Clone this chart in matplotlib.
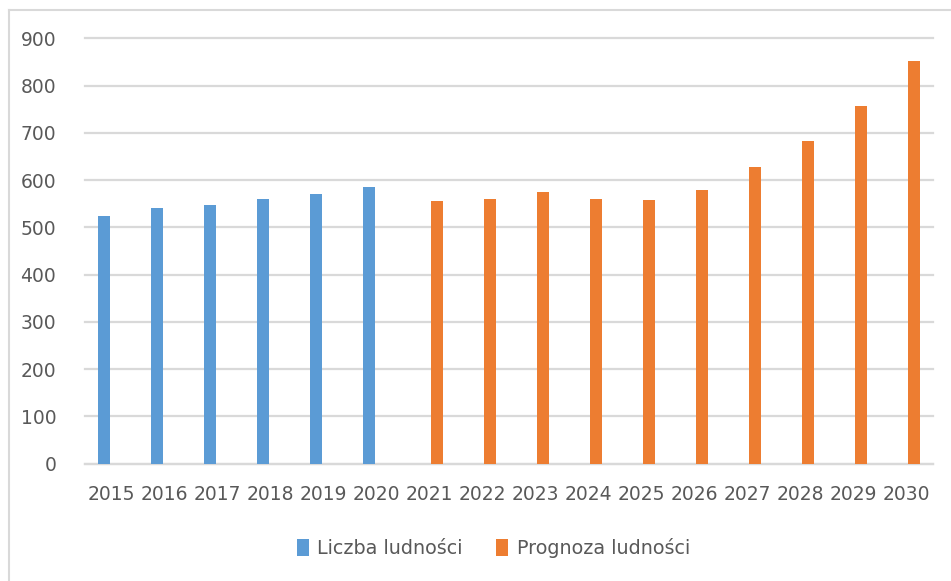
import numpy as np
import matplotlib.pyplot as plt
from matplotlib.lines import Line2D

years = [str(y) for y in range(2015, 2031)]
liczba_years = years[:6]
liczba = [525, 541, 547, 560, 571, 585]
prognoza_years = years[6:]
prognoza = [555, 560, 574, 560, 557, 579, 628, 682, 756, 853]

blue = "#5B9BD5"
orange = "#ED7D31"
grid = "#D9D9D9"
txt = "#595959"

plt.rcParams["font.family"] = ["DejaVu Sans"]

fig = plt.figure(figsize=(9.51, 5.81), dpi=100)
ax = fig.add_axes([85.3 / 951, 1 - 463.7 / 581, (933.3 - 85.3) / 951, (463.7 - 38.3) / 581])

x = np.arange(len(years))
off = 0.1415
w = 0.23
xb = [years.index(y) for y in liczba_years]
xo = [years.index(y) for y in prognoza_years]
ax.bar(np.array(xb) - off, liczba, width=w, color=blue, label="Liczba ludności", zorder=3)
ax.bar(np.array(xo) + off, prognoza, width=w, color=orange, label="Prognoza ludności", zorder=3)

ax.set_xlim(-0.5, len(years) - 0.5)
ax.set_ylim(0, 900)
ax.set_yticks(range(0, 901, 100))
ax.set_xticks(x)
ax.set_xticklabels(years)
ax.yaxis.grid(True, color=grid, linewidth=1.6, zorder=0)
for gl in ax.get_ygridlines():
    gl.set_clip_on(False)
ax.set_axisbelow(True)
for s in ["top", "right", "left"]:
    ax.spines[s].set_visible(False)
ax.spines["bottom"].set_color(grid)
ax.spines["bottom"].set_linewidth(1.6)
ax.tick_params(axis="both", length=0, labelsize=13.5, colors=txt)
ax.tick_params(axis="x", pad=15)
ax.tick_params(axis="y", pad=21)

leg = fig.legend(loc="center", bbox_to_anchor=(493.5 / 951, 1 - 548 / 581), ncol=2,
                 frameon=False, fontsize=13.8, handlelength=0.6, handleheight=1.0,
                 handletextpad=0.45, columnspacing=1.75, labelcolor=txt)

# chart border
fig.add_artist(Line2D([9 / 951, 9 / 951], [0, 1 - 10 / 581], color=grid, linewidth=1.5))
fig.add_artist(Line2D([9 / 951, 1], [1 - 10 / 581, 1 - 10 / 581], color=grid, linewidth=1.5))

fig.savefig("out.png", dpi=100)
